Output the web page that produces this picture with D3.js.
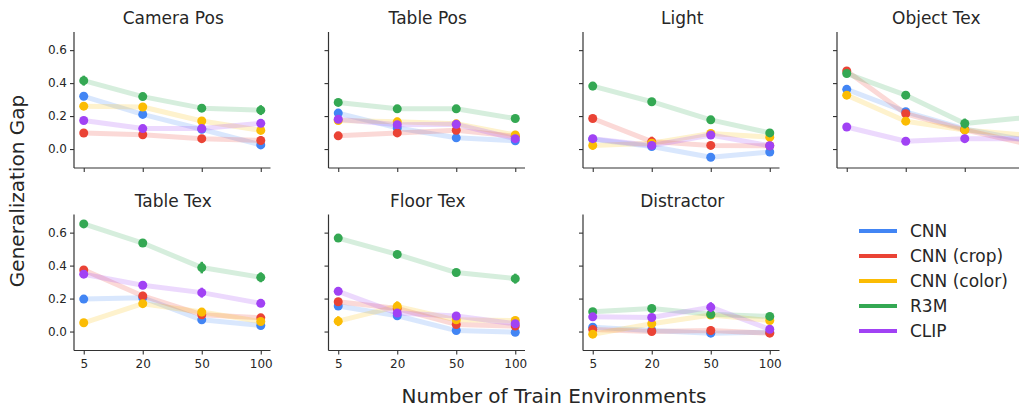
<!DOCTYPE html>
<html>
<head>
<meta charset="utf-8">
<script src="https://cdn.jsdelivr.net/npm/d3@7"></script>
<style>
  body { margin: 0; background: #fff; }
  svg { display: block; font-family: "DejaVu Sans", sans-serif; }
</style>
</head>
<body>
<div id="chart"></div>
<script>
// x categories (evenly spaced)
var envs = ['5', '20', '50', '100'];
var models = ['CNN', 'CNN (crop)', 'CNN (color)', 'R3M', 'CLIP'];
var colors = ['#4285F4', '#EA4335', '#FBBC04', '#34A853', '#A142F4'];
var yTicks = [0.0, 0.2, 0.4, 0.6];
var titles = ['Camera Pos', 'Table Pos', 'Light', 'Object Tex', 'Table Tex', 'Floor Tex', 'Distractor'];

// one row per model, in the order of `models`
var cameraPos = [
	[0.32, 0.21, 0.12, 0.025],
	[0.097, 0.087, 0.063, 0.052],
	[0.26, 0.255, 0.17, 0.113],
	[0.415, 0.318, 0.248, 0.236],
	[0.173, 0.124, 0.124, 0.156]
];
var cameraPosErr = [
	[0.01, 0.01, 0.01, 0.01],
	[0.01, 0.01, 0.01, 0.025],
	[0.01, 0.01, 0.01, 0.01],
	[0.03, 0.01, 0.01, 0.03],
	[0.01, 0.01, 0.01, 0.01]
];
var tablePos = [
	[0.218, 0.128, 0.068, 0.05],
	[0.08, 0.098, 0.114, 0.077],
	[0.173, 0.165, 0.153, 0.085],
	[0.283, 0.244, 0.244, 0.185],
	[0.181, 0.148, 0.15, 0.063]
];
var tablePosErr = [
	[0.01, 0.01, 0.01, 0.01],
	[0.01, 0.01, 0.015, 0.01],
	[0.01, 0.025, 0.01, 0.025],
	[0.01, 0.01, 0.02, 0.01],
	[0.01, 0.01, 0.01, 0.01]
];
var light = [
	[0.06, 0.015, -0.05, -0.018],
	[0.185, 0.045, 0.022, 0.02],
	[0.022, 0.035, 0.095, 0.072],
	[0.382, 0.287, 0.177, 0.098],
	[0.063, 0.022, 0.085, 0.02]
];
var lightErr = [
	[0.01, 0.01, 0.015, 0.02],
	[0.01, 0.03, 0.02, 0.01],
	[0.025, 0.01, 0.01, 0.01],
	[0.025, 0.01, 0.01, 0.01],
	[0.01, 0.01, 0.01, 0.01]
];
var objectTex = [
	[0.362, 0.226, 0.122, 0.055],
	[0.474, 0.214, 0.116, 0.035],
	[0.327, 0.169, 0.116, 0.085],
	[0.458, 0.327, 0.155, 0.19],
	[0.134, 0.047, 0.063, 0.063]
];
var objectTexErr = [
	[0.01, 0.01, 0.01, 0.01],
	[0.01, 0.01, 0.01, 0.01],
	[0.01, 0.01, 0.01, 0.01],
	[0.01, 0.01, 0.03, 0.01],
	[0.01, 0.015, 0.01, 0.01]
];
var tableTex = [
	[0.197, 0.205, 0.071, 0.037],
	[0.374, 0.216, 0.102, 0.083],
	[0.053, 0.169, 0.118, 0.061],
	[0.653, 0.537, 0.388, 0.329],
	[0.348, 0.281, 0.236, 0.171]
];
var tableTexErr = [
	[0.01, 0.01, 0.015, 0.01],
	[0.01, 0.025, 0.01, 0.01],
	[0.01, 0.01, 0.025, 0.01],
	[0.01, 0.01, 0.035, 0.03],
	[0.01, 0.02, 0.03, 0.01]
];
var floorTex = [
	[0.155, 0.096, 0.006, -0.004],
	[0.181, 0.14, 0.043, 0.033],
	[0.063, 0.153, 0.071, 0.067],
	[0.567, 0.468, 0.358, 0.321],
	[0.244, 0.112, 0.094, 0.047]
];
var floorTexErr = [
	[0.01, 0.01, 0.02, 0.015],
	[0.01, 0.01, 0.01, 0.01],
	[0.03, 0.03, 0.01, 0.015],
	[0.01, 0.01, 0.01, 0.03],
	[0.01, 0.01, 0.015, 0.01]
];
var distractor = [
	[0.026, 0.006, -0.01, -0.004],
	[0.012, 0.0, 0.006, -0.01],
	[-0.016, 0.047, 0.1, 0.067],
	[0.12, 0.14, 0.105, 0.092],
	[0.089, 0.085, 0.148, 0.014]
];
var distractorErr = [
	[0.01, 0.01, 0.02, 0.01],
	[0.01, 0.01, 0.025, 0.01],
	[0.01, 0.01, 0.01, 0.01],
	[0.01, 0.01, 0.02, 0.01],
	[0.01, 0.01, 0.03, 0.01]
];

var panelValues = [cameraPos, tablePos, light, objectTex, tableTex, floorTex, distractor];
var panelErrors = [cameraPosErr, tablePosErr, lightErr, objectTexErr, tableTexErr, floorTexErr, distractorErr];

var width = 1019, height = 406;
var panelW = 196.5, panelH = 136;
var colLeft = [74, 328.5, 583, 837];
var rowTop = [32, 214.5];
var textColor = '#262626';

var svg = d3.select('#chart').append('svg')
	.attr('width', width)
	.attr('height', height);

var y = d3.scaleLinear().domain([-0.115, 0.71]).range([panelH, 0]);
var x = d3.scaleLinear().domain([-0.165, 3.165]).range([0, panelW]);

titles.forEach(function(title, p) {
	var col = p < 4 ? p : p - 4;
	var row = p < 4 ? 0 : 1;
	var g = svg.append('g')
		.attr('transform', 'translate(' + colLeft[col] + ',' + rowTop[row] + ')');

	// axes
	var yAxis = d3.axisLeft(y).tickValues(yTicks).tickSize(4).tickPadding(3)
		.tickFormat(col == 0 ? d3.format('.1f') : '');
	var xAxis = d3.axisBottom(x).tickValues([0, 1, 2, 3]).tickSize(4).tickPadding(5)
		.tickFormat(function(d) { return row == 1 ? envs[d] : ''; });

	var ya = g.append('g').call(yAxis);
	var xa = g.append('g').attr('transform', 'translate(0,' + panelH + ')').call(xAxis);
	[ya, xa].forEach(function(a) {
		a.select('.domain').attr('stroke', '#333').attr('stroke-width', 1.2);
		a.selectAll('.tick line').attr('stroke', '#333').attr('stroke-width', 1.1);
		a.selectAll('.tick text').attr('fill', textColor)
			.style('font-size', '12px').style('font-family', '"DejaVu Sans", sans-serif');
	});
	// remove outer tick stubs from the path
	ya.select('.domain').attr('d', 'M0,0V' + panelH);
	xa.select('.domain').attr('d', 'M0,0H' + panelW);

	g.append('text')
		.attr('x', panelW / 2 + 1)
		.attr('y', row == 0 ? -8.5 : -7.8)
		.attr('text-anchor', 'middle')
		.attr('fill', textColor)
		.style('font-size', '17px')
		.text(title);

	var vals = panelValues[p];
	var errs = panelErrors[p];
	var line = d3.line()
		.x(function(d, i) { return x(i); })
		.y(function(d) { return y(d); });

	models.forEach(function(m, k) {
		var s = g.append('g');
		s.append('path')
			.attr('d', line(vals[k]))
			.attr('fill', 'none')
			.attr('stroke', colors[k])
			.attr('stroke-opacity', 0.2)
			.attr('stroke-width', 5)
			.attr('stroke-linejoin', 'round');
		s.selectAll('.err')
			.data(vals[k])
			.enter()
				.append('line')
				.attr('x1', function(d, i) { return x(i); })
				.attr('x2', function(d, i) { return x(i); })
				.attr('y1', function(d, i) { return y(d - errs[k][i]); })
				.attr('y2', function(d, i) { return y(d + errs[k][i]); })
				.attr('stroke', colors[k])
				.attr('stroke-width', 2.5);
		s.selectAll('circle')
			.data(vals[k])
			.enter()
				.append('circle')
				.attr('cx', function(d, i) { return x(i); })
				.attr('cy', function(d) { return y(d); })
				.attr('r', 4.5)
				.attr('fill', colors[k]);
	});
});

// legend
var legend = svg.append('g').attr('transform', 'translate(859,231)');
models.forEach(function(m, k) {
	var row = legend.append('g').attr('transform', 'translate(0,' + (k * 25) + ')');
	row.append('line')
		.attr('x1', 0).attr('x2', 38)
		.attr('stroke', colors[k])
		.attr('stroke-width', 4);
	row.append('text')
		.attr('x', 51)
		.attr('y', 6)
		.attr('fill', textColor)
		.style('font-size', '17px')
		.text(m);
});

svg.append('text')
	.attr('x', 554)
	.attr('y', 402.5)
	.attr('text-anchor', 'middle')
	.attr('fill', textColor)
	.style('font-size', '20px')
	.text('Number of Train Environments');

svg.append('text')
	.attr('transform', 'translate(24,191) rotate(-90)')
	.attr('text-anchor', 'middle')
	.attr('fill', textColor)
	.style('font-size', '20px')
	.text('Generalization Gap');
</script>
</body>
</html>
